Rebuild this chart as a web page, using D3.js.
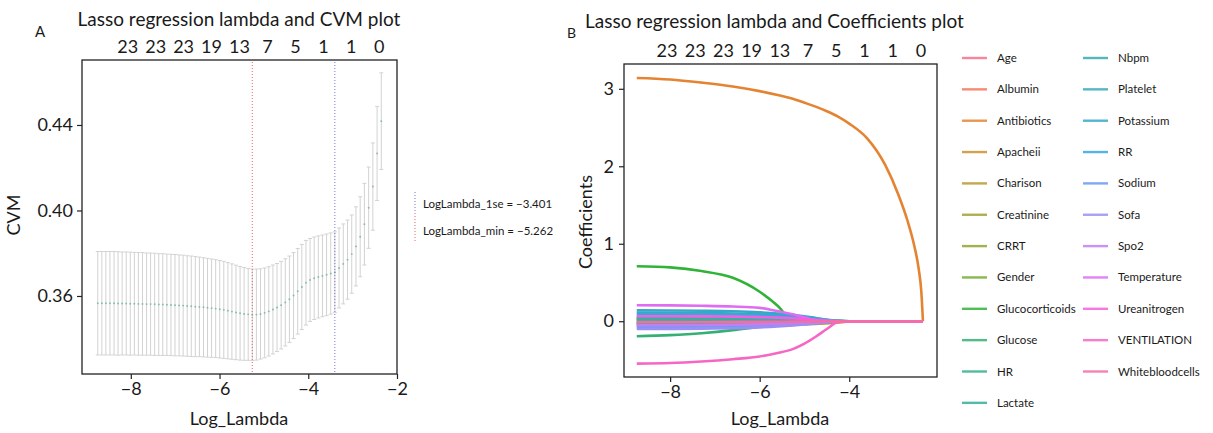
<!DOCTYPE html>
<html><head><meta charset="utf-8">
<script src="https://cdn.jsdelivr.net/npm/d3@7"></script>
<style>
body{margin:0;background:#fff}
svg{display:block}
text{font-family:Lato,"Open Sans",sans-serif;fill:#1a1a1a}
</style>
</head><body>
<svg id="c" width="1213" height="433"></svg>
<script>
// ---------- Panel A data: cross-validation curve ----------
const logLambda = [-8.745,-8.653,-8.562,-8.470,-8.378,-8.287,-8.195,-8.103,-8.012,-7.920,
 -7.829,-7.737,-7.645,-7.554,-7.462,-7.370,-7.279,-7.187,-7.095,-7.004,
 -6.912,-6.820,-6.729,-6.637,-6.546,-6.454,-6.362,-6.271,-6.179,-6.087,
 -5.996,-5.904,-5.812,-5.721,-5.629,-5.537,-5.446,-5.354,-5.262,-5.169,
 -5.076,-4.983,-4.890,-4.797,-4.704,-4.611,-4.518,-4.425,-4.332,-4.238,
 -4.145,-4.052,-3.959,-3.866,-3.773,-3.680,-3.587,-3.494,-3.401,-3.306,
 -3.211,-3.115,-3.020,-2.925,-2.830,-2.735,-2.639,-2.544,-2.449,-2.354];
const cvm = [0.3566,0.3566,0.3566,0.3566,0.3566,0.3565,0.3565,0.3565,0.3564,0.3564,
 0.3563,0.3563,0.3562,0.3562,0.3561,0.3560,0.3560,0.3559,0.3558,0.3557,
 0.3556,0.3555,0.3553,0.3552,0.3550,0.3549,0.3547,0.3545,0.3543,0.3541,
 0.3538,0.3535,0.3531,0.3527,0.3523,0.3519,0.3516,0.3514,0.3512,0.3513,
 0.3516,0.3521,0.3528,0.3537,0.3546,0.3557,0.3570,0.3585,0.3602,0.3622,
 0.3642,0.3662,0.3675,0.3683,0.3689,0.3694,0.3699,0.3705,0.3711,0.3731,
 0.3750,0.3770,0.3796,0.3832,0.3877,0.3936,0.4013,0.4112,0.4267,0.4418];
const cvsd = [0.0242,0.0242,0.0242,0.0242,0.0242,0.0242,0.0241,0.0241,0.0241,0.0240,
 0.0240,0.0240,0.0239,0.0239,0.0239,0.0238,0.0238,0.0237,0.0237,0.0237,
 0.0236,0.0236,0.0235,0.0235,0.0234,0.0233,0.0232,0.0231,0.0230,0.0229,
 0.0228,0.0227,0.0225,0.0223,0.0221,0.0219,0.0217,0.0215,0.0214,0.0213,
 0.0211,0.0210,0.0209,0.0208,0.0206,0.0205,0.0204,0.0202,0.0201,0.0200,
 0.0199,0.0198,0.0194,0.0193,0.0192,0.0191,0.0191,0.0190,0.0189,0.0187,
 0.0187,0.0185,0.0183,0.0185,0.0187,0.0191,0.0190,0.0204,0.0220,0.0226];
const lambdaMin = -5.262;
const lambda1se = -3.401;
const topCounts = ["23","23","23","19","13","7","5","1","1","0"];
const topCountPos = [-8.07,-7.44,-6.81,-6.18,-5.55,-4.92,-4.29,-3.66,-3.03,-2.40];
const xTicksA = [-8,-6,-4,-2];
const yTicksA = [0.36,0.40,0.44];

// ---------- Panel B data: coefficient paths ----------
const logLambdaB = [-8.745,-8.0,-7.3,-6.6,-6.0,-5.6,-5.262,-5.0,-4.75,-4.5,-4.25,-4.0,-3.6,-3.2,-2.9,-2.7,-2.55,-2.45,-2.39,-2.354];
const featureNames = ["Age","Albumin","Antibiotics","Apacheii","Charison","Creatinine","CRRT","Gender",
 "Glucocorticoids","Glucose","HR","Lactate","Nbpm","Platelet","Potassium","RR","Sodium","Sofa","Spo2",
 "Temperature","Ureanitrogen","VENTILATION","Whitebloodcells"];
const coefAge        = [0.03,0.03,0.029,0.028,0.025,0.022,0.018,0.014,0.009,0.004,0.001,0,0,0,0,0,0,0,0,0];
const coefAlbumin    = [-0.02,-0.02,-0.019,-0.018,-0.016,-0.014,-0.011,-0.008,-0.005,-0.002,0,0,0,0,0,0,0,0,0,0];
const coefAntibiotics= [3.14,3.12,3.08,3.03,2.97,2.92,2.87,2.82,2.77,2.71,2.64,2.55,2.36,2.02,1.63,1.30,0.98,0.68,0.38,0];
const coefApacheii   = [-0.045,-0.045,-0.044,-0.043,-0.041,-0.039,-0.036,-0.033,-0.028,-0.021,-0.012,-0.002,0,0,0,0,0,0,0,0];
const coefCharison   = [-0.06,-0.06,-0.059,-0.057,-0.053,-0.049,-0.045,-0.04,-0.034,-0.026,-0.016,-0.003,0,0,0,0,0,0,0,0];
const coefCreatinine = [0.02,0.02,0.019,0.018,0.016,0.013,0.01,0.007,0.004,0.001,0,0,0,0,0,0,0,0,0,0];
const coefCRRT       = [-0.03,-0.03,-0.029,-0.027,-0.024,-0.02,-0.016,-0.011,-0.006,-0.002,0,0,0,0,0,0,0,0,0,0];
const coefGender     = [0.05,0.05,0.049,0.047,0.043,0.038,0.031,0.024,0.016,0.008,0.002,0,0,0,0,0,0,0,0,0];
const coefGluco      = [0.71,0.695,0.648,0.56,0.38,0.2,0.01,0,0,0,0,0,0,0,0,0,0,0,0,0];
const coefGlucose    = [-0.195,-0.18,-0.155,-0.115,-0.07,-0.045,-0.035,-0.028,-0.02,-0.012,-0.004,0,0,0,0,0,0,0,0,0];
const coefHR         = [0.01,0.01,0.01,0.009,0.008,0.007,0.005,0.004,0.002,0.001,0,0,0,0,0,0,0,0,0,0];
const coefLactate    = [-0.015,-0.015,-0.015,-0.014,-0.012,-0.01,-0.008,-0.006,-0.004,-0.001,0,0,0,0,0,0,0,0,0,0];
const coefNbpm       = [0.04,0.04,0.039,0.037,0.033,0.029,0.024,0.018,0.011,0.005,0.001,0,0,0,0,0,0,0,0,0];
const coefPlatelet   = [0.11,0.109,0.106,0.1,0.09,0.078,0.064,0.049,0.032,0.016,0.004,0,0,0,0,0,0,0,0,0];
const coefPotassium  = [0.14,0.139,0.135,0.128,0.115,0.1,0.082,0.063,0.042,0.021,0.005,0,0,0,0,0,0,0,0,0];
const coefRR         = [0.09,0.089,0.087,0.082,0.074,0.064,0.052,0.04,0.026,0.013,0.003,0,0,0,0,0,0,0,0,0];
const coefSodium     = [-0.08,-0.079,-0.077,-0.073,-0.066,-0.058,-0.048,-0.037,-0.025,-0.012,-0.003,0,0,0,0,0,0,0,0,0];
const coefSofa       = [-0.1,-0.099,-0.096,-0.09,-0.08,-0.069,-0.056,-0.043,-0.029,-0.015,-0.004,0,0,0,0,0,0,0,0,0];
const coefSpo2       = [-0.05,-0.05,-0.049,-0.046,-0.041,-0.036,-0.029,-0.022,-0.014,-0.007,-0.002,0,0,0,0,0,0,0,0,0];
const coefTemperature= [0.207,0.204,0.199,0.19,0.172,0.13,0.09,0.05,0.01,0,0,0,0,0,0,0,0,0,0,0];
const coefUrea       = [0.065,0.064,0.062,0.059,0.053,0.046,0.038,0.029,0.019,0.009,0.002,0,0,0,0,0,0,0,0,0];
const coefVent       = [-0.547,-0.54,-0.52,-0.49,-0.455,-0.41,-0.36,-0.29,-0.2,-0.1,-0.01,0,0,0,0,0,0,0,0,0];
const coefWBC        = [-0.01,-0.01,-0.01,-0.009,-0.008,-0.007,-0.005,-0.004,-0.002,-0.001,0,0,0,0,0,0,0,0,0,0];
const coefSeries = [coefAge,coefAlbumin,coefAntibiotics,coefApacheii,coefCharison,coefCreatinine,coefCRRT,coefGender,
 coefGluco,coefGlucose,coefHR,coefLactate,coefNbpm,coefPlatelet,coefPotassium,coefRR,coefSodium,coefSofa,coefSpo2,
 coefTemperature,coefUrea,coefVent,coefWBC];
const xTicksB = [-8,-6,-4];
const yTicksB = [0,1,2,3];

// ---------- husl palette (seaborn style) ----------
function huslToHex(H,S,L){
  const M=[[3.2406,-1.5372,-0.4986],[-0.9689,1.8758,0.0415],[0.0557,-0.2040,1.0570]];
  const refU=0.19784, refV=0.46834, kappa=24389/27, eps=216/24389;
  const hrad=H/360*2*Math.PI, sinH=Math.sin(hrad), cosH=Math.cos(hrad);
  const sub1=Math.pow(L+16,3)/1560896, sub2=sub1>eps?sub1:L/kappa;
  let maxC=Infinity;
  for(const [m1,m2,m3] of M){
    const top=(0.99915*m1+1.05122*m2+1.14460*m3)*sub2;
    const rb=0.86330*m3-0.17266*m2, lb=0.12949*m3-0.38848*m1;
    const bottom=(rb*sinH+lb*cosH)*sub2;
    for(const t of [0,1]){
      const C=L*(top-1.05122*t)/(bottom+0.17266*sinH*t);
      if(C>0&&C<maxC)maxC=C;
    }
  }
  const C=maxC/100*S;
  const U=C*cosH, V=C*sinH;
  const tt=(L+16)/116;
  const Y=Math.pow(tt,3)>eps?Math.pow(tt,3):(116*tt-16)/kappa;
  const vU=U/(13*L)+refU, vV=V/(13*L)+refV;
  const X=-(9*Y*vU)/((vU-4)*vV-vU*vV);
  const Zc=(9*Y-15*vV*Y-vV*X)/(3*vV);
  const rgb=M.map(r=>{let c=r[0]*X+r[1]*Y+r[2]*Zc;c=c<=0.0031308?12.92*c:1.055*Math.pow(c,1/2.4)-0.055;return Math.max(0,Math.min(1,c));});
  return d3.rgb(rgb[0]*255,rgb[1]*255,rgb[2]*255).formatHex();
}
const nC=featureNames.length;
const palette=d3.range(nC).map(i=>huslToHex(((i/nC+0.01)%1)*359,0.9*99,0.65*99));

const svg=d3.select("#c");

// ================= Panel A =================
const xA=d3.scaleLinear().domain([-9.1,-2]).range([82,397]);
const yA=d3.scaleLinear().domain([0.3235,0.4704]).range([374,60]);
const gA=svg.append("g");

const eb=gA.append("g").attr("stroke","#d2d2d2").attr("stroke-width",1);
logLambda.forEach((lx,i)=>{
  const x=xA(lx), y1=yA(cvm[i]+cvsd[i]), y2=yA(cvm[i]-cvsd[i]);
  eb.append("line").attr("x1",x).attr("x2",x).attr("y1",y1).attr("y2",y2);
  eb.append("line").attr("x1",x-2).attr("x2",x+2).attr("y1",y1).attr("y2",y1);
  eb.append("line").attr("x1",x-2).attr("x2",x+2).attr("y1",y2).attr("y2",y2);
});
gA.append("g").selectAll("circle").data(logLambda).join("circle")
  .attr("cx",d=>xA(d)).attr("cy",(d,i)=>yA(cvm[i])).attr("r",0.95).attr("fill","#88bba8");

gA.append("line").attr("x1",xA(lambdaMin)).attr("x2",xA(lambdaMin)).attr("y1",62).attr("y2",372)
  .attr("stroke","#e46a6a").attr("stroke-width",1).attr("stroke-dasharray","1,2");
gA.append("line").attr("x1",xA(lambda1se)).attr("x2",xA(lambda1se)).attr("y1",62).attr("y2",372)
  .attr("stroke","#7474dc").attr("stroke-width",1).attr("stroke-dasharray","1,2");

gA.append("rect").attr("x",82).attr("y",60).attr("width",315).attr("height",314)
  .attr("fill","none").attr("stroke","#222").attr("stroke-width",1.3);

const axXA=gA.append("g").attr("transform","translate(0,374)")
  .call(d3.axisBottom(xA).tickValues(xTicksA).tickSize(5).tickPadding(3).tickFormat(d=>"\u2212"+Math.abs(d)));
const axYA=gA.append("g").attr("transform","translate(82,0)")
  .call(d3.axisLeft(yA).tickValues(yTicksA).tickSize(5).tickPadding(4).tickFormat(d3.format(".2f")));
[axXA,axYA].forEach(a=>{a.select(".domain").remove();a.selectAll("line").attr("stroke","#222").attr("stroke-width",1.2);
  a.selectAll("text").attr("font-size",18).attr("fill","#1a1a1a").attr("font-family","Lato, sans-serif");});

gA.append("text").attr("x",239).attr("y",425).attr("text-anchor","middle").attr("font-size",18).text("Log_Lambda");
gA.append("text").attr("transform","translate(20,215) rotate(-90)").attr("text-anchor","middle").attr("font-size",18).text("CVM");
gA.append("text").attr("x",239).attr("y",26).attr("text-anchor","middle").attr("font-size",19).text("Lasso regression lambda and CVM plot");
gA.append("text").attr("x",35).attr("y",37).attr("font-size",15).text("A");
gA.append("g").selectAll("text").data(topCounts).join("text")
  .attr("x",(d,i)=>xA(topCountPos[i])).attr("y",53).attr("text-anchor","middle").attr("font-size",18).text(d=>d);

gA.append("line").attr("x1",415).attr("x2",415).attr("y1",192).attr("y2",212).attr("stroke","#7474dc").attr("stroke-dasharray","1,2");
gA.append("line").attr("x1",415).attr("x2",415).attr("y1",213).attr("y2",243).attr("stroke","#e46a6a").attr("stroke-dasharray","1,2");
gA.append("text").attr("x",423).attr("y",208).attr("font-size",11.5).text("LogLambda_1se = \u22123.401");
gA.append("text").attr("x",423).attr("y",235).attr("font-size",11.5).text("LogLambda_min = \u22125.262");

// ================= Panel B =================
const xB=d3.scaleLinear().domain([-9.03,-2.04]).range([624,937]);
const yB=d3.scaleLinear().domain([-0.72,3.32]).range([377,64]);
const gB=svg.append("g");
const lineB=d3.line().x((d,i)=>xB(logLambdaB[i])).y(d=>yB(d)).curve(d3.curveMonotoneX);
gB.append("g").selectAll("path").data(coefSeries).join("path")
  .attr("d",d=>lineB(d)).attr("fill","none").attr("stroke",(d,i)=>palette[i]).attr("stroke-width",2.6);

gB.append("rect").attr("x",624).attr("y",64).attr("width",313).attr("height",313)
  .attr("fill","none").attr("stroke","#222").attr("stroke-width",1.3);
const axXB=gB.append("g").attr("transform","translate(0,377)")
  .call(d3.axisBottom(xB).tickValues(xTicksB).tickSize(5).tickPadding(3).tickFormat(d=>"\u2212"+Math.abs(d)));
const axYB=gB.append("g").attr("transform","translate(624,0)")
  .call(d3.axisLeft(yB).tickValues(yTicksB).tickSize(5).tickPadding(5).tickFormat(d3.format("d")));
[axXB,axYB].forEach(a=>{a.select(".domain").remove();a.selectAll("line").attr("stroke","#222").attr("stroke-width",1.2);
  a.selectAll("text").attr("font-size",18).attr("fill","#1a1a1a").attr("font-family","Lato, sans-serif");});

gB.append("text").attr("x",780).attr("y",425).attr("text-anchor","middle").attr("font-size",18).text("Log_Lambda");
gB.append("text").attr("transform","translate(592,222) rotate(-90)").attr("text-anchor","middle").attr("font-size",18).text("Coefficients");
gB.append("text").attr("x",585).attr("y",28).attr("font-size",19).text("Lasso regression lambda and Coefficients plot");
gB.append("text").attr("x",567).attr("y",38).attr("font-size",14).text("B");
gB.append("g").selectAll("text").data(topCounts).join("text")
  .attr("x",(d,i)=>xB(topCountPos[i])).attr("y",57).attr("text-anchor","middle").attr("font-size",18).text(d=>d);

const leg=gB.append("g");
featureNames.forEach((n,i)=>{
  const col=i<12?0:1, row=i<12?i:i-12;
  const x0=col===0?962:1083, y0=58+row*31.35;
  leg.append("line").attr("x1",x0).attr("x2",x0+25).attr("y1",y0).attr("y2",y0)
    .attr("stroke",palette[i]).attr("stroke-width",2.4).attr("opacity",0.85);
  leg.append("text").attr("x",x0+35).attr("y",y0+4).attr("font-size",11.5).attr("fill","#333").text(n);
});
</script>
</body></html>
